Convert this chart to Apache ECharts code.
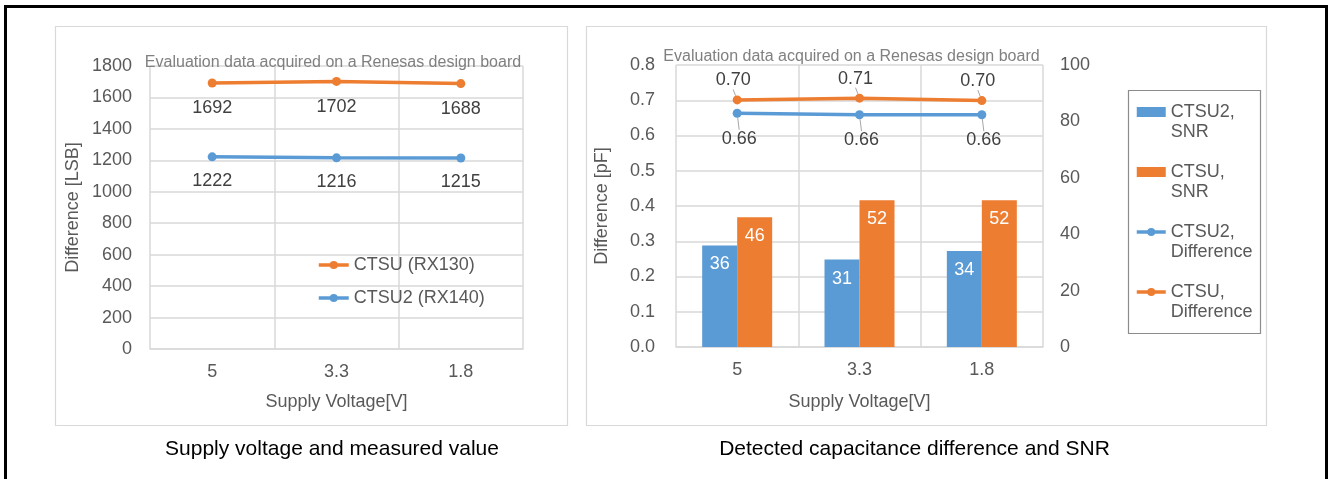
<!DOCTYPE html>
<html>
<head>
<meta charset="utf-8">
<script src="https://cdn.jsdelivr.net/npm/echarts@6/dist/echarts.min.js"></script>
<style>
html,body{margin:0;padding:0;background:#fff;}
#chart{width:1328px;height:479px;}
</style>
</head>
<body>
<div id="chart"></div>
<script>
// ---- data ----
const categories = ['5', '3.3', '1.8'];
const ctsuRX130 = [1692, 1702, 1688];
const ctsu2RX140 = [1222, 1216, 1215];
const ctsu2SNR = [36, 31, 34];
const ctsuSNR = [46, 52, 52];
const ctsu2Diff = [0.663, 0.659, 0.659];
const ctsuDiff = [0.701, 0.706, 0.699];
const leftYTicks = { min: 0, max: 1800, interval: 200 };
const rightYTicksDiff = { min: 0, max: 0.8, interval: 0.1 };
const rightYTicksSNR = { min: 0, max: 100, interval: 20 };
const captionLeft = 'Supply voltage and measured value';
const captionRight = 'Detected capacitance difference and SNR';
const noteText = 'Evaluation data acquired on a Renesas design board';

const FONT = '"Liberation Sans", Arial, sans-serif';
const ORANGE = '#ED7D31';
const BLUE = '#5B9BD5';
const GRID = '#d9d9d9';
const TICK = '#595959';

const chart = echarts.init(document.getElementById('chart'));

function xAxisCfg(gridIndex, nameGap) {
  return {
    type: 'category', gridIndex, data: categories,
    name: 'Supply Voltage[V]', nameLocation: 'middle', nameGap,
    nameTextStyle: { fontFamily: FONT, fontSize: 18, color: TICK, lineHeight: 18 },
    axisLine: { show: true, lineStyle: { color: GRID, width: 1.5 } },
    axisTick: { show: false },
    axisLabel: { fontFamily: FONT, fontSize: 18, color: TICK, margin: 14, lineHeight: 18 },
    splitLine: { show: true, lineStyle: { color: GRID, width: 1.5 } }
  };
}

const option = {
  animation: false,
  textStyle: { fontFamily: FONT },
  grid: [
    { left: 150, top: 66, width: 373, height: 283 },
    { left: 676, top: 65, width: 367, height: 282 }
  ],
  xAxis: [xAxisCfg(0, 44), xAxisCfg(1, 46)],
  yAxis: [
    {
      type: 'value', gridIndex: 0, min: leftYTicks.min, max: leftYTicks.max, interval: leftYTicks.interval,
      name: 'Difference [LSB]', nameLocation: 'middle', nameGap: 68, nameRotate: 90,
      nameTextStyle: { fontFamily: FONT, fontSize: 18, color: TICK },
      axisLine: { show: false }, axisTick: { show: false },
      axisLabel: { fontFamily: FONT, fontSize: 18, color: TICK, margin: 18, formatter: v => String(v) },
      splitLine: { show: true, lineStyle: { color: GRID, width: 1.5 } }
    },
    {
      type: 'value', gridIndex: 1, min: rightYTicksDiff.min, max: rightYTicksDiff.max, interval: rightYTicksDiff.interval,
      name: 'Difference [pF]', nameLocation: 'middle', nameGap: 65, nameRotate: 90,
      nameTextStyle: { fontFamily: FONT, fontSize: 18, color: TICK },
      axisLine: { show: false }, axisTick: { show: false },
      axisLabel: { fontFamily: FONT, fontSize: 18, color: TICK, margin: 21, formatter: v => v.toFixed(1) },
      splitLine: { show: true, lineStyle: { color: GRID, width: 1.5 } }
    },
    {
      type: 'value', gridIndex: 1, position: 'right', min: rightYTicksSNR.min, max: rightYTicksSNR.max, interval: rightYTicksSNR.interval,
      axisLine: { show: false }, axisTick: { show: false },
      axisLabel: { fontFamily: FONT, fontSize: 18, color: TICK, margin: 17 },
      splitLine: { show: false }
    }
  ],
  legend: [
    {
      left: 317, top: 255, orient: 'vertical', padding: 0,
      itemWidth: 30, itemHeight: 10, itemGap: 13,
      lineStyle: { width: 3.5 },
      textStyle: { fontFamily: FONT, fontSize: 18, color: TICK, lineHeight: 20 },
      data: ['CTSU (RX130)', 'CTSU2 (RX140)']
    },
    {
      left: 1135, top: 82, orient: 'vertical', padding: 0,
      itemWidth: 29, itemHeight: 10, itemGap: 0,
      lineStyle: { width: 3.5 },
      textStyle: { fontFamily: FONT, fontSize: 18, color: TICK, lineHeight: 20 },
      formatter: n => '\n' + n,
      data: [
        { name: 'CTSU2,\nSNR', icon: 'rect' },
        { name: 'CTSU,\nSNR', icon: 'rect' },
        'CTSU2,\nDifference',
        'CTSU,\nDifference'
      ]
    }
  ],
  series: [
    {
      name: 'CTSU (RX130)', type: 'line', xAxisIndex: 0, yAxisIndex: 0, data: ctsuRX130,
      color: ORANGE, symbol: 'circle', symbolSize: 9, lineStyle: { width: 3.5 },
      label: { show: true, position: 'bottom', distance: 12, fontSize: 18, color: '#404040' }
    },
    {
      name: 'CTSU2 (RX140)', type: 'line', xAxisIndex: 0, yAxisIndex: 0, data: ctsu2RX140,
      color: BLUE, symbol: 'circle', symbolSize: 9, lineStyle: { width: 3.5 },
      label: { show: true, position: 'bottom', distance: 11, fontSize: 18, color: '#404040' }
    },
    {
      name: 'CTSU2,\nSNR', type: 'bar', xAxisIndex: 1, yAxisIndex: 2, data: ctsu2SNR,
      color: BLUE, barWidth: 35, barGap: '0%',
      label: { show: true, position: 'insideTop', distance: 10, fontSize: 18, color: '#fff' }
    },
    {
      name: 'CTSU,\nSNR', type: 'bar', xAxisIndex: 1, yAxisIndex: 2, data: ctsuSNR,
      color: ORANGE, barWidth: 35, barGap: '0%',
      label: { show: true, position: 'insideTop', distance: 10, fontSize: 18, color: '#fff' }
    },
    {
      name: 'CTSU2,\nDifference', type: 'line', xAxisIndex: 1, yAxisIndex: 1, data: ctsu2Diff,
      color: BLUE, symbol: 'circle', symbolSize: 9, lineStyle: { width: 3.5 },
      label: { show: true, position: 'bottom', distance: 5, fontSize: 18, color: '#404040', formatter: p => p.value.toFixed(2) },
      labelLayout: { dy: 7, dx: 2 },
      labelLine: { show: true, lineStyle: { color: '#a6a6a6', width: 1 } }
    },
    {
      name: 'CTSU,\nDifference', type: 'line', xAxisIndex: 1, yAxisIndex: 1, data: ctsuDiff,
      color: ORANGE, symbol: 'circle', symbolSize: 9, lineStyle: { width: 3.5 },
      label: { show: true, position: 'top', distance: 5, fontSize: 18, color: '#404040', formatter: p => p.value.toFixed(2) },
      labelLayout: { dy: -1, dx: -4 },
      labelLine: { show: true, lineStyle: { color: '#a6a6a6', width: 1 } }
    }
  ],
  graphic: [
    { type: 'rect', z: -10, silent: true, shape: { x: 5.5, y: 6.5, width: 1321, height: 600 }, style: { fill: null, stroke: '#000', lineWidth: 3 } },
    { type: 'rect', z: -10, silent: true, shape: { x: 55.5, y: 26.5, width: 512, height: 399 }, style: { fill: null, stroke: '#d9d9d9', lineWidth: 1.2 } },
    { type: 'rect', z: -10, silent: true, shape: { x: 586.5, y: 26.5, width: 680, height: 399 }, style: { fill: null, stroke: '#d9d9d9', lineWidth: 1.2 } },
    { type: 'rect', z: -5, silent: true, shape: { x: 1128.5, y: 90.5, width: 132, height: 243 }, style: { fill: null, stroke: '#8c8c8c', lineWidth: 1.2 } },
    { type: 'text', z: 10, silent: true, x: 333, y: 63, style: { text: noteText, font: '16px ' + FONT, fill: '#808080', align: 'center', verticalAlign: 'middle' } },
    { type: 'text', z: 10, silent: true, x: 851.5, y: 57, style: { text: noteText, font: '16px ' + FONT, fill: '#808080', align: 'center', verticalAlign: 'middle' } },
    { type: 'text', silent: true, x: 332, y: 449, style: { text: captionLeft, font: '21px ' + FONT, fill: '#000', align: 'center', verticalAlign: 'middle' } },
    { type: 'text', silent: true, x: 914.5, y: 449, style: { text: captionRight, font: '21px ' + FONT, fill: '#000', align: 'center', verticalAlign: 'middle' } }
  ]
};
chart.setOption(option);
</script>
</body>
</html>
